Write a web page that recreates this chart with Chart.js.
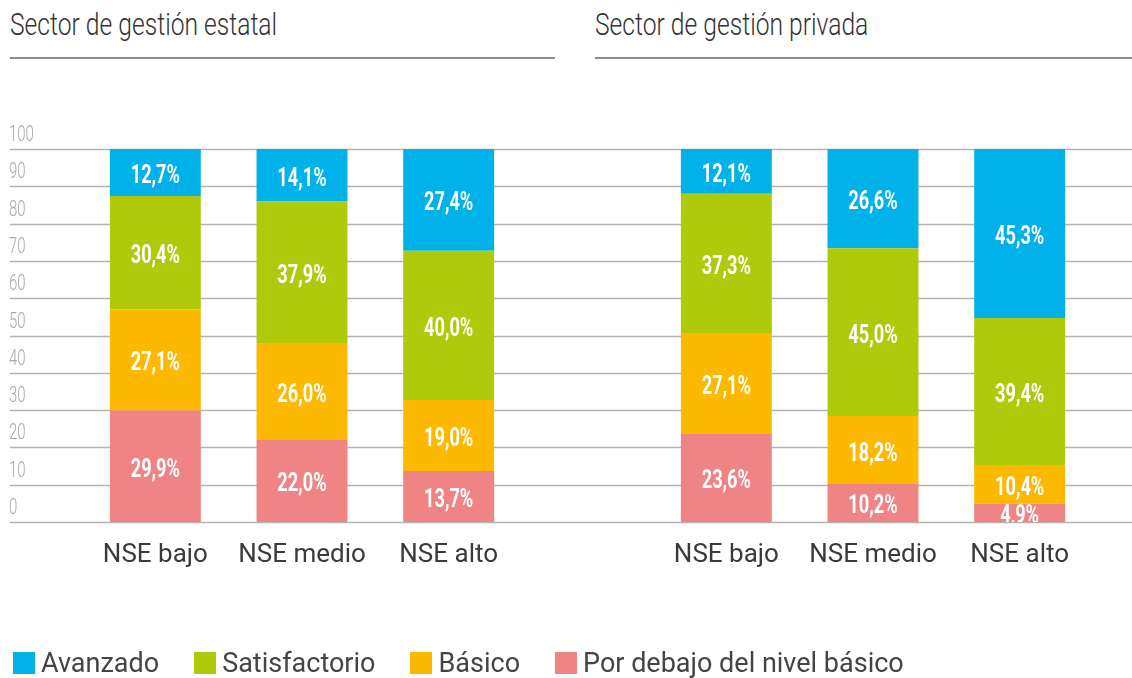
<!DOCTYPE html>
<html lang="es">
<head>
<meta charset="utf-8">
<script src="https://cdn.jsdelivr.net/npm/chart.js@4.4.1/dist/chart.umd.min.js"></script>
<style>
  body { margin: 0; width: 1132px; height: 678px; background: #fff; overflow: hidden; position: relative; font-family: Roboto, sans-serif; }
  .titulo { position: absolute; top: 5px; font-weight: 300; font-size: 32px; color: #333; transform: scaleX(0.77); transform-origin: left top; white-space: nowrap; }
  .linea { position: absolute; top: 57px; height: 0; border-top: 2px solid #8c8c8c; }
  .panel { position: absolute; top: 0; width: 566px; height: 678px; }
  #leyenda { position: absolute; left: 13px; top: 647px; display: flex; gap: 35px; font-size: 27px; color: #444; }
  #leyenda span { display: flex; align-items: center; gap: 6px; white-space: nowrap; }
  #leyenda i { display: inline-block; width: 22px; height: 22px; }
</style>
</head>
<body>
<div class="titulo" style="left:10px">Sector de gestión estatal</div>
<div class="linea" style="left:10px;width:545px"></div>
<div class="titulo" style="left:595px">Sector de gestión privada</div>
<div class="linea" style="left:595px;width:537px"></div>

<div class="panel" style="left:0"><canvas id="estatal" width="566" height="678"></canvas></div>
<div class="panel" style="left:566px"><canvas id="privada" width="566" height="678"></canvas></div>
<div id="leyenda"></div>

<script>
// datos (porcentajes por nivel de desempeño)
const categorias = ['NSE bajo', 'NSE medio', 'NSE alto'];
const yTicks = [0, 10, 20, 30, 40, 50, 60, 70, 80, 90, 100];

const estatalDebajo = [29.9, 22.0, 13.7];
const estatalBasico = [27.1, 26.0, 19.0];
const estatalSatisf = [30.4, 37.9, 40.0];
const estatalAvanz = [12.7, 14.1, 27.4];

const privadaDebajo = [23.6, 10.2, 4.9];
const privadaBasico = [27.1, 18.2, 10.4];
const privadaSatisf = [37.3, 45.0, 39.4];
const privadaAvanz = [12.1, 26.6, 45.3];

// orden de apilado: de abajo hacia arriba
const series = ['Por debajo del nivel básico', 'Básico', 'Satisfactorio', 'Avanzado'];
const colores = ['#F08383', '#FCB900', '#AFCA0B', '#00B1EA'];

function armarDatasets(valores) {
  return series.map((nombre, i) => ({
    label: nombre,
    data: valores[i],
    backgroundColor: colores[i],
    borderWidth: 0,
    categoryPercentage: 1,
    barPercentage: 0.62
  }));
}

// grilla que cruza todo el panel + etiquetas del eje y + valores en las barras
const pluginGrilla = {
  id: 'grilla',
  beforeDatasetsDraw(chart, args, opts) {
    const ctx = chart.ctx;
    const y = chart.scales.y;
    ctx.save();
    yTicks.forEach(v => {
      const py = Math.round(y.getPixelForValue(v)) + 0.5;
      ctx.strokeStyle = '#b3b3b3';
      ctx.lineWidth = 1.5;
      ctx.beginPath();
      ctx.moveTo(opts.desde, py);
      ctx.lineTo(chart.width, py);
      ctx.stroke();
      if (opts.etiquetas) {
        ctx.save();
        ctx.translate(9, py - 14);
        ctx.scale(0.68, 1);
        ctx.fillStyle = '#a9a9a9';
        ctx.font = '300 22px Roboto';
        ctx.textBaseline = 'middle';
        ctx.textAlign = 'left';
        ctx.fillText(String(v), 0, 0);
        ctx.restore();
      }
    });
    ctx.restore();
  },
  afterDatasetsDraw(chart) {
    const ctx = chart.ctx;
    const area = chart.chartArea;
    ctx.save();
    ctx.beginPath();
    ctx.rect(area.left, area.top, area.right - area.left, area.bottom - area.top);
    ctx.clip();
    chart.data.datasets.forEach((ds, i) => {
      chart.getDatasetMeta(i).data.forEach((bar, j) => {
        const txt = ds.data[j].toFixed(1).replace('.', ',') + '%';
        ctx.save();
        ctx.translate(bar.x, (bar.y + bar.base) / 2 + 4);
        ctx.scale(0.7, 1);
        ctx.fillStyle = '#fff';
        ctx.font = 'bold 26px Roboto';
        ctx.textAlign = 'center';
        ctx.textBaseline = 'middle';
        ctx.fillText(txt, 0, 0);
        ctx.restore();
      });
    });
    ctx.restore();
  }
};

function crearGrafico(id, valores, padIzq, padDer, desde, etiquetas) {
  return new Chart(document.getElementById(id), {
    type: 'bar',
    data: { labels: categorias, datasets: armarDatasets(valores) },
    options: {
      responsive: false,
      animation: false,
      devicePixelRatio: 1,
      layout: { padding: { left: padIzq, right: padDer, top: 149, bottom: 96 } },
      scales: {
        x: {
          stacked: true,
          grid: { display: false, drawTicks: false },
          border: { display: false },
          ticks: { color: '#3a3a3a', font: { family: 'Roboto', size: 26 }, padding: 18 },
          afterFit(scale) { scale.height = 60; }
        },
        y: { stacked: true, display: false, min: 0, max: 100 }
      },
      plugins: {
        legend: { display: false },
        tooltip: { enabled: false },
        grilla: { desde: desde, etiquetas: etiquetas }
      }
    },
    plugins: [pluginGrilla]
  });
}

crearGrafico('estatal', [estatalDebajo, estatalBasico, estatalSatisf, estatalAvanz], 82, 44, 10, true);
crearGrafico('privada', [privadaDebajo, privadaBasico, privadaSatisf, privadaAvanz], 87, 39, 0, false);

// leyenda (orden inverso al apilado)
const leyenda = document.getElementById('leyenda');
for (let i = series.length - 1; i >= 0; i--) {
  const item = document.createElement('span');
  item.innerHTML = '<i style="background:' + colores[i] + '"></i>' + series[i];
  leyenda.appendChild(item);
}
</script>
</body>
</html>
